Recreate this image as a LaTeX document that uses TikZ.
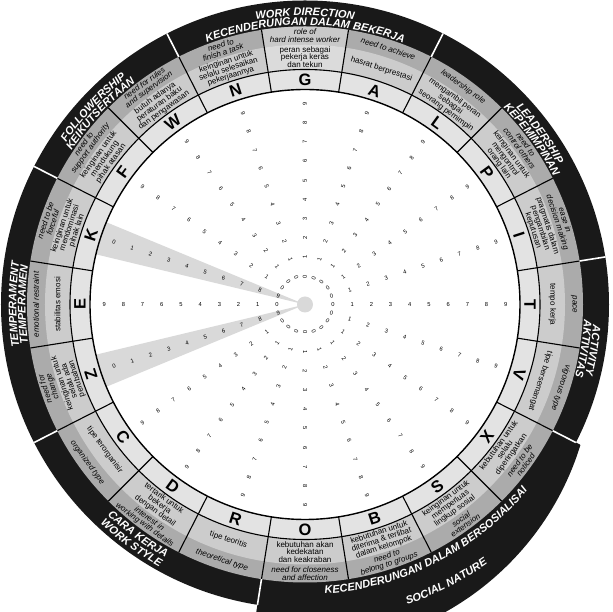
\documentclass[tikz,border=0pt]{standalone}
\usepackage{fontspec}
\setmainfont{Liberation Sans}
\usetikzlibrary{decorations.text}
\definecolor{ringblack}{gray}{0.1}
\definecolor{enband}{gray}{0.67}
\definecolor{idband}{gray}{0.80}
\definecolor{enbandG}{gray}{0.79}
\definecolor{idbandG}{gray}{0.86}
\definecolor{ltband}{gray}{0.89}
\definecolor{wedgegray}{gray}{0.85}
\newcommand{\catfont}{\fontsize{11}{11}\selectfont\bfseries\itshape}

\begin{document}
\begin{tikzpicture}[x=1pt, y=1pt,
    enlbl/.style={font=\fontsize{8}{7.6}\selectfont\itshape, align=center, inner sep=0pt},
    idlbl/.style={font=\fontsize{8}{7.6}\selectfont, align=center, inner sep=0pt},
    ltrlbl/.style={font=\fontsize{16.5}{16.5}\selectfont\bfseries, inner sep=0pt},
    digit/.style={font=\fontsize{5.8}{5.8}\selectfont, inner sep=0pt},
    divider/.style={line width=1.1},
    catdiv/.style={white, line width=1.6},
    catlbl/.style={decorate, decoration={text along path, text align=center,
        text color=white, text={|\catfont|#1}}}]
	\useasboundingbox (-305,-307.5) rectangle (308,304.5);

	\fill[ringblack] (0,0) circle[radius=304];
	\begin{scope}
		\clip (0,0) -- (-27:420) arc[start angle=-27, end angle=-99, radius=420] -- cycle;
		\fill[ringblack] (0,-56) circle[radius=288];
	\end{scope}
	\fill[enband] (0,0) circle[radius=278];
	\fill[enbandG] (81:260) arc[start angle=81, end angle=99, radius=260]
		-- (99:278) arc[start angle=99, end angle=81, radius=278] -- cycle;
	\fill[idband] (0,0) circle[radius=260];
	\fill[idbandG] (81:235) arc[start angle=81, end angle=99, radius=235]
		-- (99:260) arc[start angle=99, end angle=81, radius=260] -- cycle;
	\fill[ltband] (0,0) circle[radius=235];
	\fill[white] (0,0) circle[radius=215];

	\foreach \a in {162, -162} {
			\fill[wedgegray] (0,0) -- (\a-4.5:215) arc[start angle=\a-4.5, end angle=\a+4.5, radius=215] -- cycle;
		}
	\fill[wedgegray] (0,0) circle[radius=8];

	\draw[line width=1.4] (0,0) circle[radius=215];
	\draw[line width=1.1] (0,0) circle[radius=235];
	\foreach \a in {9,27,...,351} {
			\draw[divider] (\a:215) -- (\a:278);
		}
	\foreach \a in {117, 63, 9, -27, -99, -153, 153} {
			\draw[catdiv] (\a:278) -- (\a:304);
		}

	\foreach \i/\ltr/\en/\id in {
			0/G/{role of\\hard intense worker}/{peran sebagai\\pekerja keras\\dan tekun},
			1/A/{need to achieve}/{hasrat berprestasi},
			2/L/{leadership role}/{mengambil peran\\sebagai\\seorang pemimpin},
			3/P/{need to\\control others}/{keinginan untuk\\mengontrol\\orang lain},
			4/I/{ease in\\decision making}/{pragmatis dalam\\pengambilan\\keputusan},
			5/T/{pace}/{tempo kerja},
			6/V/{vigorous type}/{tipe bersemangat},
			7/X/{need to be\\noticed}/{kebutuhan untuk\\selalu\\diperingatkan},
			8/S/{social\\extension}/{keinginan untuk\\memperluas\\lingkup sosial},
			9/B/{need to\\belong to groups}/{kebutuhan untuk\\diterima \& terlibat\\dalam kelompok},
			10/O/{need for closeness\\and affection}/{kebutuhan akan\\kedekatan\\dan keakraban},
			11/R/{theoretical type}/{tipe teoritis},
			12/D/{interest in\\working with details}/{tertarik untuk\\bekerja\\dengan detail},
			13/C/{organized type}/{tipe terorganisir},
			14/Z/{need for\\change}/{keinginan untuk\\selalu ada\\perubahan},
			15/E/{emotional restraint}/{stabilitas emosi},
			16/K/{need to be\\forceful}/{keinginan untuk\\mendominasi\\pihak lain},
			17/F/{need to\\support authority}/{keinginan untuk\\mendukung\\pihak atasan},
			18/W/{need for rules\\and supervision}/{butuh adanya\\peraturan baku\\dan pengawasan},
			19/N/{need to\\finish a task}/{keinginan untuk\\selalu selesaikan\\pekerjaannya}} {
			\pgfmathsetmacro{\ang}{90-18*\i}
			\pgfmathsetmacro{\rot}{ifthenelse(and(\i>6,\i<14),\ang+90,\ang-90)}
			\node[ltrlbl, rotate=\rot] (ltr-\ltr) at (\ang:225) {\ltr};
			\node[idlbl, rotate=\rot] (id-\ltr) at (\ang:247.5) {\id};
			\node[enlbl, rotate=\rot] (en-\ltr) at (\ang:269) {\en};
		}

	\foreach \i in {0,...,19} {
			\pgfmathsetmacro{\ang}{90-18*\i}
			\pgfmathsetmacro{\drot}{ifthenelse(\i>10,\ang+180,\ang)}
			\foreach \k in {0,...,9} {
					\pgfmathtruncatemacro{\val}{ifthenelse(or(\i==14,\i==16),9-\k,\k)}
					\node[digit, rotate=\drot] (d-\i-\k) at (\ang:{28+19.2*\k}) {\val};
				}
		}

	\path[catlbl={WORK DIRECTION}] (135:288.7) arc[start angle=135, end angle=45, radius=288.7];
	\path[catlbl={KECENDERUNGAN DALAM BEKERJA}] (135:279.5) arc[start angle=135, end angle=45, radius=279.5];
	\path[catlbl={LEADERSHIP}] (63:288.7) arc[start angle=63, end angle=9, radius=288.7];
	\path[catlbl={KEPEMIMPINAN}] (63:279.5) arc[start angle=63, end angle=9, radius=279.5];
	\path[catlbl={ACTIVITY}] (9:288.7) arc[start angle=9, end angle=-27, radius=288.7];
	\path[catlbl={AKTIVITAS}] (9:279.5) arc[start angle=9, end angle=-27, radius=279.5];
	\path[catlbl={KECENDERUNGAN DALAM BERSOSIALISAI}] (-99:290) arc[start angle=-99, end angle=-27, radius=290];
	\path[catlbl={SOCIAL NATURE}] (-99:317) arc[start angle=-99, end angle=-27, radius=317];
	\path[catlbl={CARA KERJA}] (-153:289) arc[start angle=-153, end angle=-99, radius=289];
	\path[catlbl={WORK STYLE}] (-153:300) arc[start angle=-153, end angle=-99, radius=300];
	\path[catlbl={TEMPERAMENT}] (207:288.7) arc[start angle=207, end angle=153, radius=288.7];
	\path[catlbl={TEMPERAMEN}] (207:279.5) arc[start angle=207, end angle=153, radius=279.5];
	\path[catlbl={FOLLOWERSHIP}] (155:288.7) arc[start angle=155, end angle=119, radius=288.7];
	\path[catlbl={KEIKUTSERTAAN}] (155:279.5) arc[start angle=155, end angle=119, radius=279.5];
\end{tikzpicture}
\end{document}
